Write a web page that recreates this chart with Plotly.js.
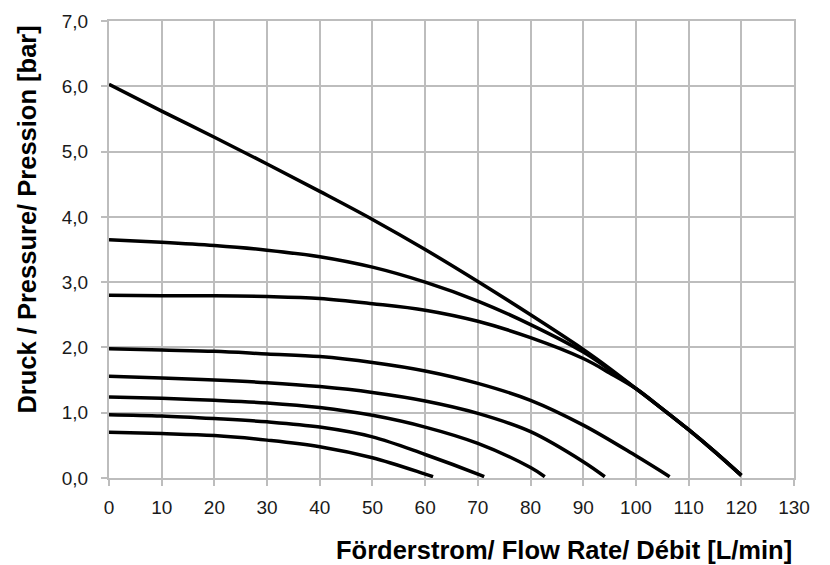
<!DOCTYPE html>
<html>
<head>
<meta charset="utf-8">
<script src="https://cdn.plot.ly/plotly-3.0.1.min.js"></script>
<style>
html,body{margin:0;padding:0;background:#fff;}
#chart{width:830px;height:565px;}
</style>
</head>
<body>
<div id="chart"></div>
<script>
// Flow rate [L/min] and pressure [bar] per curve
const flow1 = [0, 10, 20, 30, 40, 50, 60, 70, 80, 90, 95, 100, 105, 110, 115, 120];
const press1 = [6.03, 5.62, 5.22, 4.81, 4.39, 3.96, 3.50, 3.01, 2.50, 1.97, 1.68, 1.37, 1.06, 0.74, 0.40, 0.04];

const flow2 = [0, 10, 20, 30, 40, 50, 60, 70, 80, 90, 95, 100, 105, 110, 115, 120];
const press2 = [3.65, 3.61, 3.56, 3.49, 3.39, 3.23, 3.00, 2.71, 2.35, 1.93, 1.66, 1.37, 1.06, 0.74, 0.40, 0.04];

const flow3 = [0, 10, 20, 30, 40, 50, 60, 70, 80, 90, 95, 100, 105, 110, 115, 120];
const press3 = [2.80, 2.79, 2.79, 2.78, 2.75, 2.67, 2.57, 2.40, 2.15, 1.83, 1.61, 1.37, 1.06, 0.74, 0.40, 0.04];

const flow4 = [0, 10, 20, 30, 40, 50, 60, 70, 80, 90, 100, 106.4];
const press4 = [1.98, 1.96, 1.94, 1.90, 1.86, 1.77, 1.64, 1.45, 1.19, 0.81, 0.34, 0.02];

const flow5 = [0, 10, 20, 30, 40, 50, 60, 70, 80, 90, 94.1];
const press5 = [1.56, 1.53, 1.50, 1.46, 1.40, 1.31, 1.18, 0.99, 0.71, 0.25, 0.02];

const flow6 = [0, 10, 20, 30, 40, 50, 60, 70, 80, 82.7];
const press6 = [1.24, 1.22, 1.19, 1.15, 1.08, 0.96, 0.78, 0.53, 0.16, 0.02];

const flow7 = [0, 10, 20, 30, 40, 50, 60, 70, 71.2];
const press7 = [0.97, 0.95, 0.91, 0.86, 0.78, 0.63, 0.36, 0.06, 0.02];

const flow8 = [0, 10, 20, 30, 40, 50, 60, 61.5];
const press8 = [0.70, 0.68, 0.65, 0.58, 0.48, 0.31, 0.06, 0.02];

const xTickVals = [0, 10, 20, 30, 40, 50, 60, 70, 80, 90, 100, 110, 120, 130];
const xTickText = ['0', '10', '20', '30', '40', '50', '60', '70', '80', '90', '100', '110', '120', '130'];
const yTickVals = [0, 1, 2, 3, 4, 5, 6, 7];
const yTickText = ['0,0', '1,0', '2,0', '3,0', '4,0', '5,0', '6,0', '7,0'];

const xTitle = 'Förderstrom/ Flow Rate/ Débit [L/min]';
const yTitle = 'Druck / Pressure/ Pression [bar]';

const series = [
  [flow1, press1], [flow2, press2], [flow3, press3], [flow4, press4],
  [flow5, press5], [flow6, press6], [flow7, press7], [flow8, press8]
];

const traces = series.map(function (s) {
  return {
    x: s[0], y: s[1], type: 'scatter', mode: 'lines',
    line: {color: '#000000', width: 3.5, shape: 'spline', smoothing: 1},
    hoverinfo: 'x+y', showlegend: false
  };
});

const gridColor = '#bdbdbd';
const font = 'Liberation Sans, Arial, sans-serif';

const layout = {
  width: 830, height: 565,
  margin: {l: 109, r: 36, t: 21, b: 87},
  paper_bgcolor: '#ffffff', plot_bgcolor: '#ffffff',
  showlegend: false,
  font: {family: font, color: '#1a1a1a'},
  xaxis: {
    range: [0, 130], tickvals: xTickVals, ticktext: xTickText,
    showgrid: true, gridcolor: gridColor, gridwidth: 2,
    zeroline: false, showline: true, linecolor: gridColor, linewidth: 2, mirror: true,
    ticks: 'outside', ticklen: 6, tickcolor: gridColor, tickwidth: 2,
    ticklabelstandoff: 5,
    tickfont: {size: 19, family: font, color: '#1a1a1a'},
    fixedrange: true
  },
  yaxis: {
    range: [0, 7], tickvals: yTickVals, ticktext: yTickText,
    showgrid: true, gridcolor: gridColor, gridwidth: 2,
    zeroline: false, showline: true, linecolor: gridColor, linewidth: 2, mirror: true,
    ticks: 'outside', ticklen: 6, tickcolor: gridColor, tickwidth: 2,
    ticklabelstandoff: 9,
    tickfont: {size: 19, family: font, color: '#1a1a1a'},
    fixedrange: true
  },
  annotations: [
    {
      text: '<b>' + xTitle + '</b>', xref: 'paper', yref: 'paper',
      x: 1.0, y: -0.158, xanchor: 'right', yanchor: 'middle',
      showarrow: false, font: {size: 25.5, family: font, color: '#000000'}
    },
    {
      text: '<b>' + yTitle + '</b>', xref: 'paper', yref: 'paper',
      x: -0.12, y: 0.565, xanchor: 'center', yanchor: 'middle', textangle: -90,
      showarrow: false, font: {size: 25.5, family: font, color: '#000000'}
    }
  ]
};

Plotly.newPlot('chart', traces, layout, {displayModeBar: false, staticPlot: true});
</script>
</body>
</html>
